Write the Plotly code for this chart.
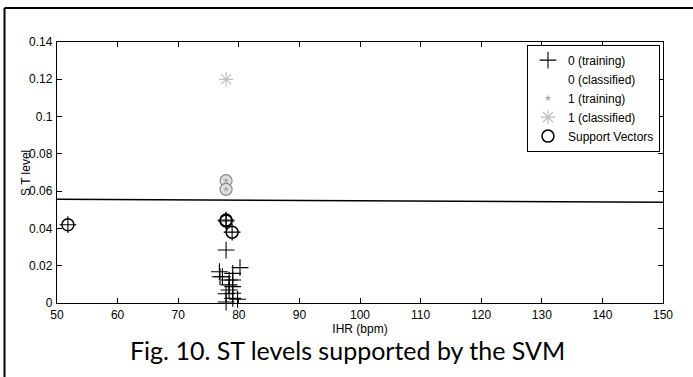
import plotly.graph_objects as go

# ---- data ----
train0_x = [51.8, 77.9, 77.9, 78.9, 77.9, 76.8, 76.9, 77.3, 78.4, 78.4, 78.4, 77.9,
            79.0, 79.0, 79.0, 79.0, 79.0, 80.2, 77.9, 79.8]
train0_y = [0.042, 0.0445, 0.0440, 0.0380, 0.0284, 0.0168, 0.0141, 0.0141, 0.0123, 0.0097,
            0.0070, 0.0050, 0.0159, 0.0123, 0.0088, 0.0052, 0.0025, 0.0190, 0.0005, 0.0020]
train1_x = [77.9, 77.9]
train1_y = [0.0656, 0.0610]
class1_x = [77.9]
class1_y = [0.120]
sv_x = [51.8, 77.9, 77.9, 78.9]
sv_y = [0.042, 0.0445, 0.0440, 0.0380]
sv1_x = [77.9, 77.9]
sv1_y = [0.0656, 0.0610]
boundary_x = [50, 150]
boundary_y = [0.0556, 0.0540]

x_ticks = [50, 60, 70, 80, 90, 100, 110, 120, 130, 140, 150]
y_ticks = [0, 0.02, 0.04, 0.06, 0.08, 0.1, 0.12, 0.14]

AX_FONT = "Liberation Sans, Arial"

fig = go.Figure()

# decision boundary
fig.add_trace(go.Scatter(x=boundary_x, y=boundary_y, mode="lines",
                         line=dict(color="black", width=1.5), showlegend=False,
                         hoverinfo="skip"))

# gray support-vector circles (class 1)
fig.add_trace(go.Scatter(x=sv1_x, y=sv1_y, mode="markers", showlegend=False,
                         marker=dict(symbol="circle", size=12, color="#e0e0e0",
                                     line=dict(color="#8a8a8a", width=1.2))))

fig.add_trace(go.Scatter(x=train0_x, y=train0_y, mode="markers", name="0 (training)",
                         cliponaxis=False,
                         marker=dict(symbol="cross-thin", size=12, color="black",
                                     line=dict(color="black", width=1.1))))
fig.add_trace(go.Scatter(x=[None], y=[None], mode="markers", name="0 (classified)",
                         marker=dict(symbol="circle", size=6, color="rgba(0,0,0,0)")))
fig.add_trace(go.Scatter(x=train1_x, y=train1_y, mode="markers", name="1 (training)",
                         marker=dict(symbol="star", size=5, color="#a8a8a8")))
fig.add_trace(go.Scatter(x=class1_x, y=class1_y, mode="markers", name="1 (classified)",
                         marker=dict(symbol="asterisk-open", size=12, color="#c0c0c0",
                                     line=dict(color="#c0c0c0", width=1.2))))
fig.add_trace(go.Scatter(x=sv_x, y=sv_y, mode="markers", name="Support Vectors",
                         marker=dict(symbol="circle-open", size=12, color="black",
                                     line=dict(color="black", width=1.5))))

axis_common = dict(showline=True, linecolor="black", linewidth=1.3, mirror="allticks",
                   ticks="inside", ticklen=5, tickcolor="black", showgrid=False,
                   zeroline=False, tickfont=dict(family=AX_FONT, size=12, color="black"))

fig.update_layout(
    width=693, height=377,
    margin=dict(l=57, r=30, t=42, b=74),
    paper_bgcolor="white", plot_bgcolor="white",
    font=dict(family=AX_FONT, color="black"),
    xaxis=dict(range=[50, 150], tickvals=x_ticks, ticktext=[str(v) for v in x_ticks],
               title=dict(text="IHR (bpm)", font=dict(family=AX_FONT, size=12), standoff=3),
               **axis_common),
    yaxis=dict(range=[0, 0.14], tickvals=y_ticks, ticktext=[f"{v:g}" for v in y_ticks],
               ticklabelstandoff=1, **axis_common),
    legend=dict(x=0.995, xanchor="right", y=0.99, yanchor="top",
                bgcolor="white", bordercolor="black", borderwidth=1,
                font=dict(family=AX_FONT, size=12, color="black"),
                itemwidth=30, tracegroupgap=0),
    showlegend=True,
)

# y-axis title placed close to the tick labels, as in the reference
fig.add_annotation(text="S T level", xref="paper", yref="paper", x=-0.052, y=0.5,
                   xanchor="center", yanchor="middle", textangle=-90, showarrow=False,
                   font=dict(family=AX_FONT, size=12, color="black"))

# outer frame (left and top edges)
fig.add_shape(type="line", xref="paper", yref="paper", x0=-0.0866, x1=-0.0866,
              y0=-0.3, y1=1.130, line=dict(color="black", width=2))
fig.add_shape(type="line", xref="paper", yref="paper", x0=-0.0866, x1=1.1,
              y0=1.130, y1=1.130, line=dict(color="black", width=2))

fig.add_annotation(text="Fig. 10. ST levels supported by the SVM", xref="paper", yref="paper",
                   x=0.48, y=-0.18, xanchor="center", yanchor="middle", showarrow=False,
                   font=dict(family="Lato", size=25, color="black"))

fig.write_html("out.html")
